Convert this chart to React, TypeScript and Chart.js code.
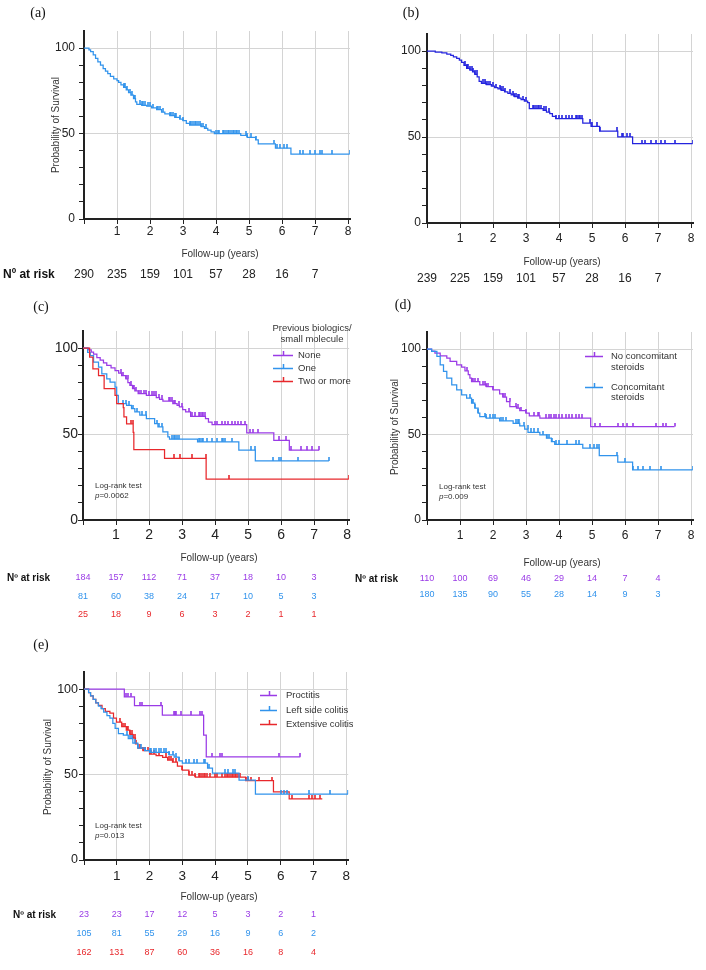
import React, { useEffect, useRef } from 'react';
import { Chart, registerables } from 'chart.js';

Chart.register(...registerables);
Chart.defaults.font.family = "'Liberation Sans', Arial, sans-serif";

const PURPLE = '#9a3be6';
const BLUE = '#3193ec';
const RED = '#e8282c';
const NAVY = '#2424de';
const GRID = '#d4d4d4';
const INK = '#222222';

const YEARS = [0, 1, 2, 3, 4, 5, 6, 7, 8];
const Y_TICKS = [0, 10, 20, 30, 40, 50, 60, 70, 80, 90, 100];
const Y_LABELS = [0, 50, 100];
const X_MAX = 8.06;
const Y_MAX = 110;

// ---------- (a) all patients ----------
const A_T = [0, 0.15, 0.2, 0.28, 0.35, 0.42, 0.5, 0.58, 0.65, 0.72, 0.8, 0.9, 1.0, 1.05, 1.12, 1.2, 1.28, 1.35, 1.42, 1.5, 1.56, 1.6, 1.75, 1.9, 2.05, 2.2, 2.35, 2.45, 2.6, 2.75, 2.9, 3.0, 3.1, 3.2, 3.55, 3.65, 3.75, 3.85, 3.95, 4.75, 4.95, 5.2, 5.28, 5.8, 6.27, 8.05];
const A_S = [100, 99, 98, 96, 94, 92, 90, 88, 86.5, 85, 83.5, 82, 81, 80, 78.5, 77, 75.5, 74, 72.5, 70.5, 68.5, 67, 66.5, 66, 65, 64, 62.5, 61.5, 60.5, 59.5, 58.5, 57.5, 56, 55, 54, 53, 52, 51, 50, 49, 47.8, 46.3, 44, 41.4, 38, 38];
const A_C = [1.2, 1.25, 1.3, 1.38, 1.45, 1.5, 1.55, 1.7, 1.75, 1.8, 1.85, 1.95, 2.0, 2.1, 2.2, 2.25, 2.3, 2.4, 2.6, 2.65, 2.7, 2.75, 2.8, 2.9, 3.0, 3.2, 3.25, 3.3, 3.35, 3.4, 3.45, 3.5, 3.55, 3.6, 3.7, 4.0, 4.05, 4.1, 4.2, 4.25, 4.3, 4.35, 4.4, 4.45, 4.5, 4.55, 4.6, 4.65, 4.7, 4.9, 4.95, 5.05, 5.2, 5.75, 5.85, 5.95, 6.05, 6.15, 6.55, 6.65, 6.85, 7.0, 7.15, 7.2, 7.5, 8.05];
const A_RISK = [290, 235, 159, 101, 57, 28, 16, 7];

// ---------- (b) ----------
const B_T = [0, 0.25, 0.45, 0.6, 0.72, 0.8, 0.9, 0.98, 1.05, 1.12, 1.2, 1.3, 1.38, 1.45, 1.52, 1.58, 1.65, 1.8, 1.95, 2.05, 2.15, 2.25, 2.35, 2.45, 2.55, 2.65, 2.75, 2.85, 2.95, 3.05, 3.1, 3.52, 3.62, 3.72, 3.8, 3.9, 4.72, 4.97, 5.23, 5.78, 6.23, 8.05];
const B_S = [100, 99.5, 99, 98.3, 97.5, 96.7, 95.8, 94.8, 93.5, 91.8, 90, 89, 88, 86.5, 85, 82.5, 81.2, 80.5, 79.6, 78.8, 78, 77.2, 76.3, 75.4, 74.5, 73.5, 72.7, 71.8, 71, 70, 66.6, 65.6, 64.6, 63.7, 62, 60.8, 58.2, 56.3, 53.4, 50.1, 46.2, 46.2];
const B_C = [1.15, 1.2, 1.25, 1.3, 1.35, 1.4, 1.45, 1.5, 1.7, 1.75, 1.8, 1.85, 1.9, 2.0, 2.1, 2.2, 2.25, 2.3, 2.35, 2.5, 2.6, 2.65, 2.7, 2.75, 2.8, 2.9, 3.0, 3.2, 3.25, 3.3, 3.35, 3.4, 3.45, 3.55, 3.6, 3.7, 3.9, 4.0, 4.1, 4.2, 4.3, 4.4, 4.5, 4.55, 4.6, 4.65, 4.7, 4.95, 5.0, 5.15, 5.25, 5.75, 5.9, 5.95, 6.05, 6.15, 6.5, 6.6, 6.8, 6.95, 7.1, 7.2, 7.5, 8.05];
const B_RISK = [239, 225, 159, 101, 57, 28, 16, 7];

// ---------- (c) previous biologics ----------
const C_NONE_T = [0, 0.17, 0.25, 0.32, 0.42, 0.52, 0.62, 0.72, 0.85, 0.97, 1.08, 1.17, 1.3, 1.36, 1.42, 1.5, 1.57, 1.67, 1.92, 2.22, 2.32, 2.42, 2.72, 2.85, 2.92, 3.02, 3.11, 3.26, 3.71, 3.8, 3.91, 4.96, 5.78, 6.25, 7.15];
const C_NONE_S = [100, 99, 97.7, 96.5, 94.5, 93, 91.5, 90, 88.5, 87, 85.5, 84, 82.2, 80, 78.3, 76.5, 75.2, 73.5, 72.5, 71.2, 70.2, 69.2, 67.7, 66.7, 65.8, 64.3, 62.9, 60.3, 59, 57, 55.5, 50.7, 46.4, 40.6, 40.6];
const C_NONE_C = [1.15, 1.2, 1.3, 1.35, 1.45, 1.5, 1.55, 1.6, 1.7, 1.75, 1.85, 1.9, 2.0, 2.1, 2.15, 2.2, 2.3, 2.4, 2.6, 2.65, 2.7, 2.75, 2.8, 2.9, 3.0, 3.2, 3.3, 3.4, 3.5, 3.55, 3.6, 3.65, 3.7, 4.0, 4.05, 4.2, 4.3, 4.4, 4.5, 4.6, 4.7, 4.8, 4.9, 5.05, 5.15, 5.3, 5.95, 6.15, 6.3, 6.6, 6.8, 6.95, 7.15];
const C_ONE_T = [0, 0.14, 0.22, 0.32, 0.47, 0.57, 0.72, 0.82, 0.97, 1.02, 1.07, 1.32, 1.47, 1.57, 1.72, 1.92, 2.17, 2.27, 2.42, 2.57, 2.62, 3.47, 4.72, 5.22, 7.45];
const C_ONE_S = [100, 97.5, 95.7, 91.9, 89, 85, 82.2, 80.3, 77.4, 72.5, 67.7, 66.7, 64.8, 62.9, 61, 59, 56.1, 54.2, 51.3, 48.4, 47, 45.5, 40.6, 34.4, 34.4];
const C_ONE_C = [1.2, 1.3, 1.4, 1.5, 1.65, 1.8, 1.9, 2.25, 2.3, 2.4, 2.7, 2.75, 2.8, 2.85, 2.9, 3.5, 3.55, 3.6, 3.65, 3.75, 3.9, 4.05, 4.2, 4.25, 4.3, 4.5, 5.1, 5.2, 5.75, 5.95, 6.0, 6.5, 7.45];
const C_TWO_T = [0, 0.2, 0.3, 0.47, 0.64, 0.97, 1.02, 1.22, 1.24, 1.32, 1.52, 1.54, 2.47, 3.73, 8.05];
const C_TWO_S = [100, 94.8, 88, 84, 76.4, 72.5, 67.7, 65.4, 60, 56, 51, 41, 35.8, 23.8, 23.8];
const C_TWO_C = [1.45, 1.5, 2.75, 2.95, 3.3, 3.72, 4.42, 8.05];
const C_RISK_NONE = [184, 157, 112, 71, 37, 18, 10, 3];
const C_RISK_ONE = [81, 60, 38, 24, 17, 10, 5, 3];
const C_RISK_TWO = [25, 18, 9, 6, 3, 2, 1, 1];

// ---------- (d) concomitant steroids ----------
const D_NO_T = [0, 0.14, 0.24, 0.4, 0.6, 0.7, 0.9, 1.05, 1.15, 1.25, 1.3, 1.35, 1.6, 1.8, 2.0, 2.2, 2.3, 2.41, 2.51, 2.71, 2.81, 3.0, 3.1, 3.42, 4.96, 7.5];
const D_NO_S = [100, 98.8, 97.7, 96, 94.7, 92.8, 90.8, 89.5, 87.3, 85, 83, 81, 79, 78, 76.2, 73.8, 71.9, 69.3, 66.4, 65.4, 64, 62.5, 60.9, 59.6, 54.7, 54.7];
const D_NO_C = [1.2, 1.35, 1.4, 1.45, 1.55, 1.7, 1.75, 1.8, 1.85, 2.0, 2.3, 2.35, 2.5, 2.7, 2.75, 2.85, 3.0, 3.25, 3.35, 3.4, 3.6, 3.7, 3.75, 3.85, 3.9, 4.0, 4.1, 4.2, 4.3, 4.4, 4.5, 4.6, 4.7, 5.1, 5.25, 5.8, 5.95, 6.05, 6.25, 6.95, 7.15, 7.25, 7.5];
const D_YES_T = [0, 0.14, 0.3, 0.4, 0.5, 0.6, 0.75, 0.9, 1.05, 1.2, 1.35, 1.45, 1.55, 1.6, 1.8, 2.2, 2.61, 2.81, 2.96, 3.06, 3.42, 3.62, 3.77, 3.87, 4.72, 5.22, 5.78, 6.23, 8.05];
const D_YES_S = [100, 98.6, 95.7, 90.8, 86.9, 83, 79, 76.2, 73.2, 71.3, 68.4, 65.4, 62.5, 60.5, 59.6, 58, 56.6, 55.1, 53.1, 51.2, 49.8, 47.9, 45.9, 44.3, 42, 37.7, 33.8, 29.3, 29.3];
const D_YES_C = [1.3, 1.35, 1.4, 1.45, 1.55, 1.75, 1.8, 1.9, 2.0, 2.05, 2.25, 2.3, 2.4, 2.7, 2.75, 2.8, 2.95, 3.05, 3.15, 3.25, 3.35, 3.5, 3.65, 3.7, 3.8, 3.9, 4.0, 4.25, 4.5, 4.6, 4.95, 5.05, 5.15, 5.2, 5.75, 6.0, 6.25, 6.4, 6.55, 6.75, 7.1, 8.05];
const D_RISK_NO = [110, 100, 69, 46, 29, 14, 7, 4];
const D_RISK_YES = [180, 135, 90, 55, 28, 14, 9, 3];

// ---------- (e) disease extent ----------
const E_PROC_T = [0, 1.23, 1.54, 2.39, 3.65, 3.73, 6.6];
const E_PROC_S = [100, 95.5, 90.3, 84.8, 73.1, 60.4, 60.4];
const E_PROC_C = [1.28, 1.35, 1.42, 1.7, 1.78, 2.35, 2.75, 2.78, 2.82, 2.95, 3.25, 3.55, 3.6, 3.9, 4.15, 4.2, 5.95, 6.6];
const E_LEFT_T = [0, 0.14, 0.2, 0.28, 0.36, 0.44, 0.52, 0.6, 0.7, 0.79, 0.88, 0.95, 1.05, 1.2, 1.35, 1.49, 1.64, 1.85, 2.0, 2.6, 2.75, 2.9, 3.0, 3.77, 3.92, 4.73, 5.23, 8.06];
const E_LEFT_S = [100, 98, 96, 94, 92, 90, 88.5, 86.5, 84.5, 83, 80, 77, 74, 73, 71, 68.4, 65.5, 64, 63, 61.5, 60.2, 58, 56.7, 53.8, 50.8, 46.8, 38.6, 38.6];
const E_LEFT_C = [1.3, 1.4, 1.45, 1.55, 1.65, 1.75, 1.85, 2.0, 2.05, 2.15, 2.2, 2.3, 2.35, 2.45, 2.5, 2.6, 2.7, 2.8, 2.9, 3.1, 3.2, 3.35, 3.45, 3.65, 3.7, 3.8, 4.3, 4.4, 4.55, 4.6, 5.0, 6.0, 6.1, 6.2, 6.85, 7.5, 8.05];
const E_EXT_T = [0, 0.14, 0.2, 0.28, 0.36, 0.44, 0.55, 0.65, 0.79, 0.9, 0.99, 1.15, 1.29, 1.4, 1.49, 1.57, 1.64, 1.8, 2.0, 2.2, 2.4, 2.55, 2.7, 2.85, 3.0, 3.2, 3.4, 4.93, 5.78, 6.26, 7.27];
const E_EXT_S = [100, 98, 96, 94, 92, 90.5, 88.5, 87, 86, 83, 80.7, 78, 76, 73.5, 71.3, 68, 65.5, 64, 62, 61, 60, 58.5, 57.3, 55, 52.6, 49.7, 48.5, 46.5, 39.8, 35.7, 35.7];
const E_EXT_C = [1.1, 1.2, 1.25, 1.3, 1.35, 1.4, 1.45, 1.5, 1.55, 1.6, 1.7, 1.8, 1.85, 1.95, 2.05, 2.15, 2.3, 2.5, 2.6, 2.65, 2.7, 2.8, 3.0, 3.2, 3.3, 3.4, 3.5, 3.55, 3.6, 3.65, 3.7, 3.75, 3.85, 4.0, 4.05, 4.2, 4.3, 4.35, 4.4, 4.45, 4.5, 4.55, 4.6, 4.65, 4.7, 4.75, 4.95, 5.0, 5.1, 5.35, 5.75, 6.35, 6.85, 6.95, 7.05, 7.2];
const E_RISK_PROC = [23, 23, 17, 12, 5, 3, 2, 1];
const E_RISK_LEFT = [105, 81, 55, 29, 16, 9, 6, 2];
const E_RISK_EXT = [162, 131, 87, 60, 36, 16, 8, 4];

// ---------------------------------------------------------------
type Series = { t: number[]; s: number[]; c: number[]; color: string };
type RiskRow = { values: number[]; color: string; y: number };
type LegendItem = { lines: string[]; color: string; y: number; lineGap: number };
type PanelCfg = {
  x: number; y: number; w: number; h: number;
  pad: { left: number; right: number; top: number; bottom: number };
  series: Series[];
  xFont: number; yFont: number; xPad: number; yPad: number;
  label: string; labelX: number; labelY: number;
  yTitle?: { x: number; y: number };
  xTitle: { x: number; y: number };
  riskLabel?: { x: number; y: number; size: number };
  riskSize: number;
  riskRows: RiskRow[];
  legend?: { title?: string[]; titleX?: number; titleY?: number[]; x1: number; x2: number; tx: number; items: LegendItem[] };
  logrank?: { x: number; y: number; p: string };
};

const survAt = (t: number[], s: number[], x: number) => {
  let v = s[0];
  for (let i = 0; i < t.length; i++) if (t[i] <= x + 1e-9) v = s[i];
  return v;
};

const tickCache: Record<string, HTMLCanvasElement> = {};
function tickImg(color: string) {
  if (tickCache[color]) return tickCache[color];
  const c = document.createElement('canvas');
  c.width = 2;
  c.height = 8;
  const g = c.getContext('2d')!;
  g.fillStyle = color;
  g.fillRect(0.2, 0, 1.6, 4);
  tickCache[color] = c;
  return c;
}

function font(size: number, opts: { bold?: boolean; italic?: boolean; serif?: boolean } = {}) {
  return `${opts.italic ? 'italic ' : ''}${opts.bold ? 'bold ' : ''}${size}px ${opts.serif ? "'Liberation Serif', 'Times New Roman', serif" : "'Liberation Sans', Arial, sans-serif"}`;
}

function extrasPlugin(cfg: PanelCfg) {
  return {
    id: 'extras',
    afterDraw(chart: any) {
      const ctx: CanvasRenderingContext2D = chart.ctx;
      const xs = chart.scales.x;
      ctx.save();
      ctx.translate(-cfg.x, -cfg.y);
      ctx.textBaseline = 'middle';
      ctx.fillStyle = '#111';
      ctx.font = font(14, { serif: true });
      ctx.textAlign = 'center';
      ctx.fillText(cfg.label, cfg.labelX, cfg.labelY);
      ctx.fillStyle = '#333';
      ctx.font = font(10);
      ctx.fillText('Follow-up (years)', cfg.xTitle.x, cfg.xTitle.y);
      if (cfg.yTitle) {
        ctx.save();
        ctx.translate(cfg.yTitle.x, cfg.yTitle.y);
        ctx.rotate(-Math.PI / 2);
        ctx.fillText('Probability of Survival', 0, 0);
        ctx.restore();
      }
      if (cfg.riskLabel) {
        ctx.fillStyle = '#111';
        ctx.textAlign = 'left';
        ctx.font = font(cfg.riskLabel.size, { bold: true });
        ctx.fillText('Nº at risk', cfg.riskLabel.x, cfg.riskLabel.y);
      }
      ctx.textAlign = 'center';
      ctx.font = font(cfg.riskSize);
      cfg.riskRows.forEach((row) => {
        ctx.fillStyle = row.color;
        row.values.forEach((v, i) => {
          ctx.fillText(String(v), xs.getPixelForValue(i) + cfg.x, row.y);
        });
      });
      if (cfg.legend) {
        const lg = cfg.legend;
        ctx.fillStyle = '#333';
        ctx.font = font(9.5);
        if (lg.title && lg.titleY) {
          ctx.textAlign = 'center';
          lg.title.forEach((t, i) => ctx.fillText(t, lg.titleX!, lg.titleY![i]));
        }
        lg.items.forEach((it) => {
          ctx.strokeStyle = it.color;
          ctx.lineWidth = 1.5;
          ctx.beginPath();
          ctx.moveTo(lg.x1, it.y + 0.5);
          ctx.lineTo(lg.x2, it.y + 0.5);
          const mx = Math.round((lg.x1 + lg.x2) / 2) + 0.5;
          ctx.moveTo(mx, it.y + 0.5);
          ctx.lineTo(mx, it.y - 4);
          ctx.stroke();
          ctx.fillStyle = '#333';
          ctx.textAlign = 'left';
          it.lines.forEach((l, i) => ctx.fillText(l, lg.tx, it.y + i * it.lineGap));
        });
      }
      if (cfg.logrank) {
        const lr = cfg.logrank;
        ctx.fillStyle = '#333';
        ctx.textAlign = 'left';
        ctx.font = font(8);
        ctx.fillText('Log-rank test', lr.x, lr.y);
        ctx.font = font(8, { italic: true });
        ctx.fillText('p', lr.x, lr.y + 10);
        const pw = ctx.measureText('p').width;
        ctx.font = font(8);
        ctx.fillText('=' + lr.p, lr.x + pw, lr.y + 10);
      }
      ctx.restore();
    },
  };
}

function Panel({ cfg }: { cfg: PanelCfg }) {
  const ref = useRef<HTMLCanvasElement>(null);
  useEffect(() => {
    const datasets: any[] = [];
    cfg.series.forEach((sr) => {
      datasets.push({
        type: 'scatter',
        data: sr.c.map((x) => ({ x, y: survAt(sr.t, sr.s, x) })),
        pointStyle: tickImg(sr.color),
        pointRadius: 3,
        showLine: false,
      });
      datasets.push({
        type: 'line',
        data: sr.t.map((x, i) => ({ x, y: sr.s[i] })),
        borderColor: sr.color,
        borderWidth: 1.25,
        stepped: true,
        pointRadius: 0,
        fill: false,
        tension: 0,
      });
    });
    const chart = new Chart(ref.current!, {
      type: 'line',
      data: { datasets },
      options: {
        animation: false,
        responsive: false,
        events: [],
        layout: { padding: cfg.pad, autoPadding: false },
        plugins: { legend: { display: false }, tooltip: { enabled: false } },
        scales: {
          x: {
            type: 'linear',
            min: 0,
            max: X_MAX,
            afterBuildTicks: (s: any) => {
              s.ticks = YEARS.map((v) => ({ value: v }));
            },
            afterFit: (s: any) => {
              s.height = 20;
            },
            ticks: {
              autoSkip: false,
              maxRotation: 0,
              padding: cfg.xPad,
              color: INK,
              font: { size: cfg.xFont },
              callback: (v: any) => (v === 0 ? '' : String(v)),
            },
            grid: {
              color: (c: any) => (c.tick && c.tick.value === 0 ? 'rgba(0,0,0,0)' : GRID),
              tickColor: INK,
              tickLength: 5,
              lineWidth: 1,
            },
            border: { color: INK, width: 2 },
          },
          y: {
            type: 'linear',
            min: 0,
            max: Y_MAX,
            afterBuildTicks: (s: any) => {
              s.ticks = Y_TICKS.map((v) => ({ value: v }));
            },
            afterFit: (s: any) => {
              s.width = 30;
            },
            ticks: {
              autoSkip: false,
              padding: cfg.yPad,
              color: INK,
              font: { size: cfg.yFont },
              callback: (v: any) => (Y_LABELS.includes(v) ? String(v) : ''),
            },
            grid: {
              color: (c: any) => (c.tick && (c.tick.value === 50 || c.tick.value === 100) ? GRID : 'rgba(0,0,0,0)'),
              tickColor: INK,
              tickLength: 5,
              lineWidth: 1,
            },
            border: { color: INK, width: 2 },
          },
        },
      } as any,
      plugins: [extrasPlugin(cfg)],
    });
    return () => chart.destroy();
  }, [cfg]);
  return (
    <canvas
      ref={ref}
      width={cfg.w}
      height={cfg.h}
      style={{ position: 'absolute', left: cfg.x, top: cfg.y, width: cfg.w, height: cfg.h }}
    />
  );
}

const PANELS: PanelCfg[] = [
  {
    x: 0, y: 0, w: 353, h: 290,
    pad: { left: 54, right: 3, top: 31, bottom: 51 },
    series: [{ t: A_T, s: A_S, c: A_C, color: BLUE }],
    xFont: 12, yFont: 12, xPad: 0, yPad: 4,
    label: '(a)', labelX: 38, labelY: 13,
    yTitle: { x: 56, y: 125 },
    xTitle: { x: 220, y: 254 },
    riskLabel: { x: 3, y: 275, size: 12 },
    riskSize: 12,
    riskRows: [{ values: A_RISK, color: INK, y: 275 }],
  },
  {
    x: 353, y: 0, w: 353, h: 290,
    pad: { left: 44, right: 13, top: 34, bottom: 47 },
    series: [{ t: B_T, s: B_S, c: B_C, color: NAVY }],
    xFont: 12, yFont: 12, xPad: 3, yPad: 1,
    label: '(b)', labelX: 411, labelY: 13,
    xTitle: { x: 562, y: 262 },
    riskSize: 12,
    riskRows: [{ values: B_RISK, color: INK, y: 279 }],
  },
  {
    x: 0, y: 290, w: 353, h: 330,
    pad: { left: 53, right: 1, top: 41, bottom: 80 },
    series: [
      { t: C_TWO_T, s: C_TWO_S, c: C_TWO_C, color: RED },
      { t: C_ONE_T, s: C_ONE_S, c: C_ONE_C, color: BLUE },
      { t: C_NONE_T, s: C_NONE_S, c: C_NONE_C, color: PURPLE },
    ],
    xFont: 14, yFont: 14, xPad: 2, yPad: 0,
    label: '(c)', labelX: 41, labelY: 307,
    xTitle: { x: 219, y: 558 },
    riskLabel: { x: 7, y: 578, size: 10 },
    riskSize: 9,
    riskRows: [
      { values: C_RISK_NONE, color: PURPLE, y: 578 },
      { values: C_RISK_ONE, color: BLUE, y: 597 },
      { values: C_RISK_TWO, color: RED, y: 615 },
    ],
    legend: {
      title: ['Previous biologics/', 'small molecule'],
      titleX: 312,
      titleY: [328, 339],
      x1: 273, x2: 293, tx: 298,
      items: [
        { lines: ['None'], color: PURPLE, y: 355, lineGap: 0 },
        { lines: ['One'], color: BLUE, y: 368, lineGap: 0 },
        { lines: ['Two or more'], color: RED, y: 381, lineGap: 0 },
      ],
    },
    logrank: { x: 95, y: 486, p: '0.0062' },
  },
  {
    x: 353, y: 290, w: 353, h: 330,
    pad: { left: 44, right: 13, top: 42, bottom: 80 },
    series: [
      { t: D_YES_T, s: D_YES_S, c: D_YES_C, color: BLUE },
      { t: D_NO_T, s: D_NO_S, c: D_NO_C, color: PURPLE },
    ],
    xFont: 12, yFont: 12, xPad: 3, yPad: 1,
    label: '(d)', labelX: 403, labelY: 305,
    yTitle: { x: 395, y: 427 },
    xTitle: { x: 562, y: 563 },
    riskLabel: { x: 355, y: 579, size: 10 },
    riskSize: 9,
    riskRows: [
      { values: D_RISK_NO, color: PURPLE, y: 579 },
      { values: D_RISK_YES, color: BLUE, y: 595 },
    ],
    legend: {
      x1: 585, x2: 603, tx: 611,
      items: [
        { lines: ['No concomitant', 'steroids'], color: PURPLE, y: 356, lineGap: 11 },
        { lines: ['Concomitant', 'steroids'], color: BLUE, y: 387, lineGap: 10 },
      ],
    },
    logrank: { x: 439, y: 487, p: '0.009' },
  },
  {
    x: 0, y: 620, w: 353, h: 350,
    pad: { left: 54, right: 3, top: 52, bottom: 90 },
    series: [
      { t: E_LEFT_T, s: E_LEFT_S, c: E_LEFT_C, color: BLUE },
      { t: E_EXT_T, s: E_EXT_S, c: E_EXT_C, color: RED },
      { t: E_PROC_T, s: E_PROC_S, c: E_PROC_C, color: PURPLE },
    ],
    xFont: 13.5, yFont: 12.5, xPad: 3, yPad: 1,
    label: '(e)', labelX: 41, labelY: 645,
    yTitle: { x: 48, y: 767 },
    xTitle: { x: 219, y: 897 },
    riskLabel: { x: 13, y: 915, size: 10 },
    riskSize: 9,
    riskRows: [
      { values: E_RISK_PROC, color: PURPLE, y: 915 },
      { values: E_RISK_LEFT, color: BLUE, y: 934 },
      { values: E_RISK_EXT, color: RED, y: 953 },
    ],
    legend: {
      x1: 260, x2: 277, tx: 286,
      items: [
        { lines: ['Proctitis'], color: PURPLE, y: 695, lineGap: 0 },
        { lines: ['Left side colitis'], color: BLUE, y: 710, lineGap: 0 },
        { lines: ['Extensive colitis'], color: RED, y: 724, lineGap: 0 },
      ],
    },
    logrank: { x: 95, y: 826, p: '0.013' },
  },
];

export default function App() {
  return (
    <div style={{ position: 'absolute', left: 0, top: 0, width: 706, height: 970, background: '#fff', overflow: 'hidden' }}>
      {PANELS.map((p, i) => (
        <Panel key={i} cfg={p} />
      ))}
    </div>
  );
}
